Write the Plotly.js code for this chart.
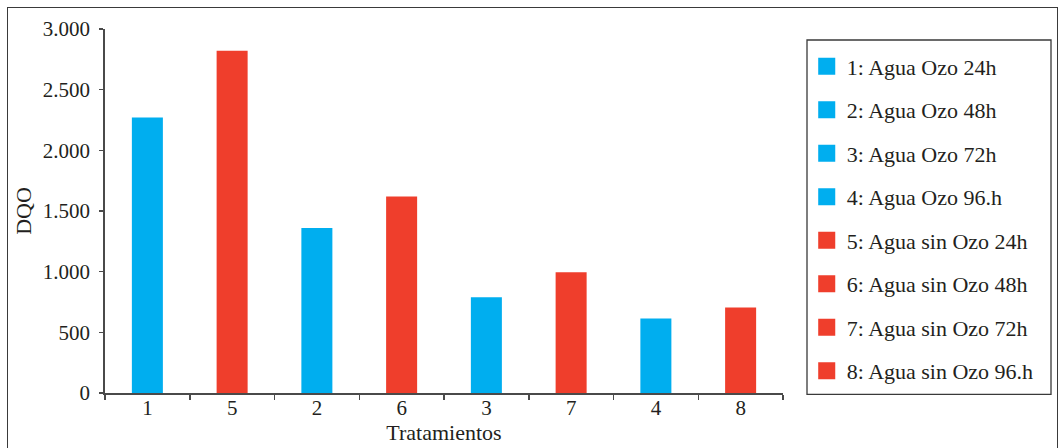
<!DOCTYPE html>
<html>
<head>
<meta charset="utf-8">
<script src="https://cdn.plot.ly/plotly-3.0.1.min.js"></script>
<style>
  html, body { margin: 0; padding: 0; background: #fff; }
  #wrap { position: relative; width: 1060px; height: 448px; overflow: hidden; }
  #frame { position: absolute; left: 7px; top: 7px; width: 1051px; height: 460px;
           border: 1.5px solid #3a3a3a; box-sizing: border-box; }
  #chart { position: absolute; left: 0; top: 0; width: 1060px; height: 448px; }
</style>
</head>
<body>
<div id="wrap">
  <div id="frame"></div>
  <div id="chart"></div>
</div>
<script>
// Tratamientos (order along the x axis) and DQO values
const categoryOrder = ['1', '5', '2', '6', '3', '7', '4', '8'];
const treatments = ['1', '2', '3', '4', '5', '6', '7', '8'];
const names = [
  '1: Agua Ozo 24h',
  '2: Agua Ozo 48h',
  '3: Agua Ozo 72h',
  '4: Agua Ozo 96.h',
  '5: Agua sin Ozo 24h',
  '6: Agua sin Ozo 48h',
  '7: Agua sin Ozo 72h',
  '8: Agua sin Ozo 96.h'
];
const dqo = [2270, 1360, 790, 615, 2820, 1620, 995, 705];
const yTicks = [0, 500, 1000, 1500, 2000, 2500, 3000];

const BLUE = '#00aeef';
const RED = '#ef3e2c';
const FONT = '"Liberation Serif", "Times New Roman", serif';
const INK = '#231f20';

const traces = treatments.map((t, i) => ({
  type: 'bar',
  x: [t],
  y: [dqo[i]],
  name: names[i],
  legendgroup: 'g' + i,
  marker: { color: i < 4 ? BLUE : RED, line: { width: 0 } },
  hoverinfo: 'x+y'
}));

const layout = {
  width: 1060,
  height: 448,
  margin: { l: 105, r: 277, t: 29, b: 55 },
  paper_bgcolor: 'rgba(0,0,0,0)',
  plot_bgcolor: 'rgba(0,0,0,0)',
  separators: ',.',
  barmode: 'overlay',
  bargap: 0.634,
  font: { family: FONT, size: 21, color: INK },
  xaxis: {
    type: 'category',
    categoryorder: 'array',
    categoryarray: categoryOrder,
    showline: true,
    linecolor: '#4a4a4a',
    linewidth: 1.5,
    ticks: 'outside',
    tickson: 'boundaries',
    ticklen: 5,
    tickcolor: '#4a4a4a',
    tickwidth: 1.5,
    ticklabelstandoff: -5,
    showgrid: false,
    zeroline: false,
    tickfont: { family: FONT, size: 21, color: INK },
    title: { text: 'Tratamientos', font: { family: FONT, size: 22, color: INK }, standoff: 0 }
  },
  yaxis: {
    range: [0, 3000],
    tickvals: yTicks,
    tickformat: ',d',
    showline: true,
    linecolor: '#4a4a4a',
    linewidth: 1.8,
    ticks: 'outside',
    ticklen: 4,
    tickcolor: '#4a4a4a',
    tickwidth: 1.5,
    ticklabelstandoff: 5,
    showgrid: false,
    zeroline: false,
    tickfont: { family: FONT, size: 21, color: INK },
    title: { text: 'DQO', font: { family: FONT, size: 22, color: INK }, standoff: 5 }
  },
  showlegend: true,
  legend: {
    x: 1.035,
    y: 0.955,
    xanchor: 'left',
    yanchor: 'top',
    borderwidth: 0,
    bgcolor: 'rgba(0,0,0,0)',
    traceorder: 'grouped',
    tracegroupgap: 11.9,
    font: { family: FONT, size: 22, color: INK }
  },
  // legend box
  shapes: [{
    type: 'rect',
    xref: 'paper', yref: 'paper',
    x0: (807 - 105) / 678, x1: (1051 - 105) / 678,
    y0: (392.7 - 394) / 363.7, y1: (392.7 - 40) / 363.7,
    line: { color: '#3a3a3a', width: 1.3 },
    fillcolor: 'rgba(0,0,0,0)'
  }]
};

Plotly.newPlot('chart', traces, layout, { displayModeBar: false, staticPlot: true }).then(gd => {
  // enlarge the legend swatches, keeping their own placement
  gd.querySelectorAll('.legend .legendpoints path').forEach(p => {
    const t = p.getAttribute('transform') || '';
    p.setAttribute('transform', (t + ' scale(1.42)').trim());
  });
});
</script>
</body>
</html>
